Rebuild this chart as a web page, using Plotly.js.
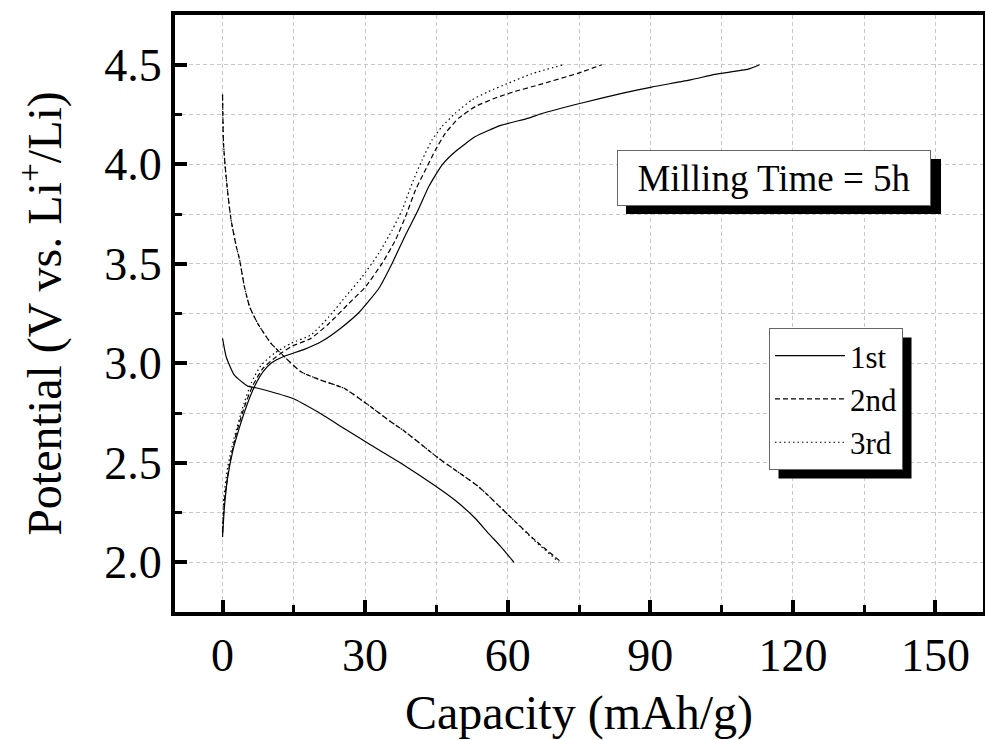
<!DOCTYPE html>
<html>
<head>
<meta charset="utf-8">
<script src="https://cdn.plot.ly/plotly-3.0.1.min.js"></script>
<style>html,body{margin:0;padding:0;background:#fff;}#chart{width:985px;height:740px;}</style>
</head>
<body>
<div id="chart"></div>
<script>
// ---- data ----
var seriesNames = ["1st", "2nd", "3rd"];

var cap1Dis = [0, 0.8, 2.5, 5.3, 7, 10.2, 14.8, 20, 25.6, 31.2, 38.2, 44.8, 49, 53.2, 56, 58.5, 61.3];
var volt1Dis = [3.125, 3.03, 2.94, 2.885, 2.877, 2.857, 2.823, 2.756, 2.672, 2.589, 2.488, 2.383, 2.31, 2.22, 2.144, 2.08, 2.0];
var cap1Chg = [0, 0.4, 1.1, 2.2, 3.6, 5.0, 6.7, 8.5, 10.2, 13, 17.2, 21, 24.8, 28.7, 32.9, 35.7, 38.5, 41, 43.4, 46.2, 49, 53.2, 58.5, 64.4, 67.2, 75.6, 84, 90.3, 98.7, 103.6, 110.6, 113];
var volt1Chg = [2.127, 2.278, 2.429, 2.563, 2.68, 2.781, 2.882, 2.957, 3.0, 3.035, 3.07, 3.112, 3.175, 3.255, 3.377, 3.503, 3.645, 3.762, 3.888, 3.997, 4.064, 4.139, 4.195, 4.232, 4.255, 4.308, 4.356, 4.388, 4.425, 4.452, 4.478, 4.5];

var cap2Dis = [0, 0.2, 0.55, 1.1, 1.8, 2.9, 3.6, 4.6, 5.7, 7.4, 10.2, 13, 16.5, 20.7, 25.6, 31.2, 35.4, 38.2, 45.5, 53.9, 60.2, 65.8, 71.3];
var volt2Dis = [4.349, 4.106, 3.99, 3.855, 3.72, 3.586, 3.519, 3.385, 3.284, 3.2, 3.1, 3.033, 2.957, 2.915, 2.874, 2.781, 2.706, 2.66, 2.522, 2.379, 2.236, 2.11, 2.0];
var cap2Chg = [0, 0.4, 1.5, 2.9, 4.6, 6.4, 8.5, 11.3, 14.4, 18.6, 22.4, 26.6, 30.1, 33.6, 36.4, 38.5, 40.6, 42.7, 44.8, 46.9, 49.7, 53.2, 57.4, 61.6, 66.5, 74.9, 79.8];
var volt2Chg = [2.15, 2.31, 2.496, 2.647, 2.781, 2.89, 2.974, 3.033, 3.083, 3.125, 3.2, 3.301, 3.385, 3.503, 3.62, 3.737, 3.871, 3.972, 4.072, 4.156, 4.232, 4.29, 4.333, 4.366, 4.399, 4.458, 4.5];

var cap3Dis = [0, 0.2, 0.55, 1.1, 1.8, 2.9, 3.6, 4.6, 5.7, 7.4, 10.2, 13, 16.5, 20.7, 25.6, 31.2, 35.4, 38.2, 45.5, 53.9, 60.2, 65.6, 70.8];
var volt3Dis = [4.35, 4.11, 3.99, 3.855, 3.72, 3.586, 3.519, 3.385, 3.284, 3.2, 3.1, 3.033, 2.957, 2.915, 2.874, 2.781, 2.706, 2.66, 2.522, 2.379, 2.236, 2.11, 2.0];
var cap3Chg = [0, 0.3, 1.1, 2.5, 4.3, 6.0, 8.1, 10.9, 14.4, 18.6, 22.4, 25.9, 29.4, 32.9, 35.7, 37.8, 39.9, 42, 44.1, 46.2, 49, 52.5, 56, 60.2, 65.1, 71.7];
var volt3Chg = [2.15, 2.33, 2.48, 2.63, 2.781, 2.899, 2.99, 3.05, 3.1, 3.142, 3.234, 3.335, 3.435, 3.553, 3.67, 3.771, 3.905, 4.022, 4.123, 4.19, 4.257, 4.324, 4.366, 4.408, 4.455, 4.5];

var xTickVals = [0, 30, 60, 90, 120, 150];
var yTickVals = [2.0, 2.5, 3.0, 3.5, 4.0, 4.5];
var yTickText = ["2.0", "2.5", "3.0", "3.5", "4.0", "4.5"];
var annotText = "Milling Time = 5h";

// ---- layout geometry ----
var W = 985, H = 740;
var M = {l: 175, r: 2, t: 15, b: 128};
var PW = W - M.l - M.r, PH = H - M.t - M.b;
function px(x) { return (x - M.l) / PW; }
function py(y) { return (M.t + PH - y) / PH; }

var FONT = "'Liberation Serif', 'Times New Roman', Times, serif";
var dashes = ["solid", "5px,3px", "1.5px,3px"];
var caps = [[cap1Dis, cap1Chg], [cap2Dis, cap2Chg], [cap3Dis, cap3Chg]];
var volts = [[volt1Dis, volt1Chg], [volt2Dis, volt2Chg], [volt3Dis, volt3Chg]];

var traces = [];
for (var i = 0; i < 3; i++) {
  for (var k = 0; k < 2; k++) {
    traces.push({
      type: "scatter", mode: "lines",
      x: caps[i][k], y: volts[i][k],
      name: seriesNames[i], legendgroup: seriesNames[i], showlegend: k === 0,
      line: {color: "#000", width: 1.2, dash: dashes[i], shape: "spline", smoothing: 0.5},
      hoverinfo: "skip"
    });
  }
}

var gridCol = "#c8c8c8";
var layout = {
  width: W, height: H,
  margin: M,
  paper_bgcolor: "#fff", plot_bgcolor: "#fff",
  font: {family: FONT, color: "#000", size: 46},
  showlegend: true,
  xaxis: {
    range: [-10, 160], tickvals: xTickVals, ticks: "inside", ticklen: 12, tickwidth: 4, tickcolor: "#000",
    showline: true, linewidth: 4, linecolor: "#000", mirror: true,
    showgrid: true, gridcolor: gridCol, griddash: "4px,3px", gridwidth: 1, zeroline: false,
    minor: {dtick: 15, tick0: 0, ticks: "inside", ticklen: 7, tickwidth: 3, tickcolor: "#000", showgrid: true, gridcolor: gridCol, griddash: "4px,3px", gridwidth: 1},
    tickfont: {family: FONT, size: 46},
    title: {text: "Capacity (mAh/g)", font: {family: FONT, size: 48}, standoff: 18},
    automargin: false
  },
  yaxis: {
    range: [1.75, 4.75], tickvals: yTickVals, ticktext: yTickText, ticks: "inside", ticklen: 12, tickwidth: 4, tickcolor: "#000",
    showline: true, linewidth: 4, linecolor: "#000", mirror: true,
    showgrid: true, gridcolor: gridCol, griddash: "4px,3px", gridwidth: 1, zeroline: false,
    minor: {dtick: 0.25, tick0: 0, ticks: "inside", ticklen: 7, tickwidth: 3, tickcolor: "#000", showgrid: true, gridcolor: gridCol, griddash: "4px,3px", gridwidth: 1},
    tickfont: {family: FONT, size: 46},
    title: {text: "Potential (V vs. Li<sup>+</sup>/Li)", font: {family: FONT, size: 48}, standoff: 28},
    automargin: false
  },
  legend: {
    x: px(769), y: py(328), xanchor: "left", yanchor: "top",
    bgcolor: "#fff", bordercolor: "#666", borderwidth: 1,
    font: {family: FONT, size: 31}, itemwidth: 70, tracegroupgap: 0
  },
  annotations: [{
    xref: "paper", yref: "paper", x: px(774), y: py(178), xanchor: "center", yanchor: "middle",
    text: annotText, showarrow: false, font: {family: FONT, size: 37},
    bgcolor: "#fff", bordercolor: "#666", borderwidth: 1, borderpad: 0, width: 312, height: 54
  }],
  shapes: [
    {type: "rect", xref: "paper", yref: "paper", x0: px(626), x1: px(941), y0: py(214), y1: py(159), fillcolor: "#000", line: {width: 0}, layer: "above"},
    {type: "rect", xref: "paper", yref: "paper", x0: px(778), x1: px(913), y0: py(472), y1: py(337), fillcolor: "#000", line: {width: 0}, layer: "above"}
  ]
};

Plotly.newPlot("chart", traces, layout, {displayModeBar: false, staticPlot: true}).then(function (gd) {
  // fit the legend's drop shadow to the legend box as drawn
  var bg = gd.querySelector(".legend .bg");
  var host = gd.getBoundingClientRect();
  if (bg) {
    var b = bg.getBoundingClientRect();
    var off = 9;
    var shapes = layout.shapes.slice();
    shapes[1] = Object.assign({}, shapes[1], {
      x0: px(b.left - host.left + off), x1: px(b.right - host.left + off),
      y0: py(b.bottom - host.top + off), y1: py(b.top - host.top + off)
    });
    Plotly.relayout(gd, {shapes: shapes});
  }
});
</script>
</body>
</html>
